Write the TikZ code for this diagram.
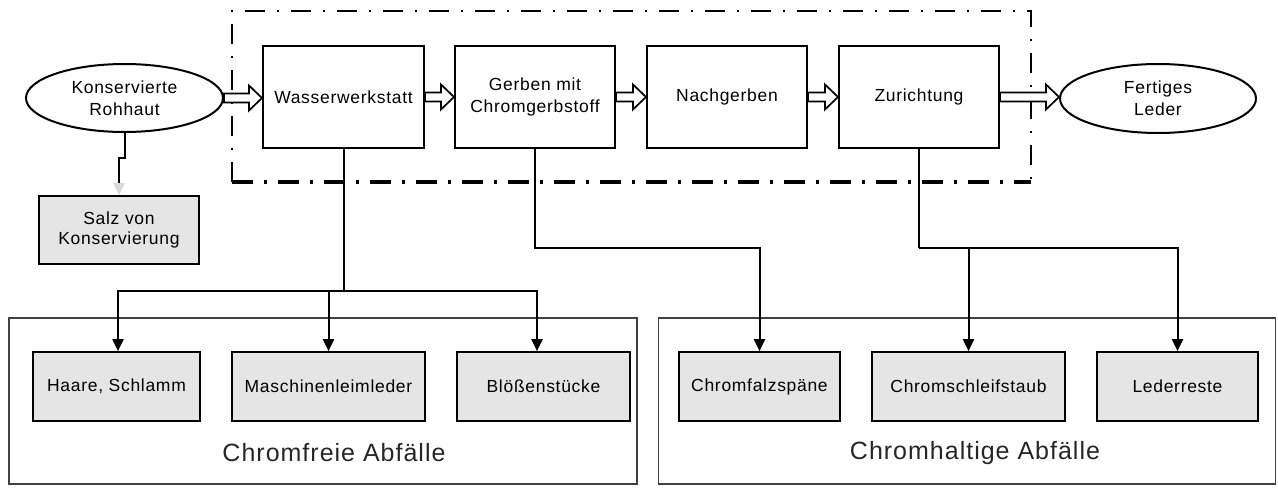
\documentclass[tikz,border=0pt]{standalone}
\usepackage{fontspec}
\setmainfont{Liberation Sans}[LetterSpace=4]
\usetikzlibrary{arrows.meta,calc,shapes.geometric}

\tikzset{
  txt/.style={font=\fontsize{17.5}{22}\selectfont, align=center, inner sep=0pt},
  process/.style={txt, draw, line width=2pt, minimum width=160pt, minimum height=102pt},
  terminal/.style={txt, draw, ellipse, line width=2pt, minimum width=197pt, minimum height=68pt},
  waste/.style={txt, draw, fill=black!10, line width=1.7pt, minimum height=69pt},
  group/.style={draw=black!75, line width=1.5pt},
  grouplabel/.style={font=\fontsize{25}{28}\selectfont, inner sep=0pt, text=black!85},
  link/.style={line width=2pt},
  wastearrow/.style={link, -{Triangle[length=12pt,width=11pt]}},
  grayarrow/.style={link, -{Triangle[length=12pt,width=11pt,color=black!15]}},
  flow/.style={draw, line width=1.7pt, fill=white},
  frameside/.style={line width=1.6pt, dash pattern=on 20pt off 12pt on 2pt off 12pt},
  framebase/.style={line width=3.8pt, dash pattern=on 21pt off 11pt on 3pt off 11pt}
}

% open block arrow from the east side of #1 to the west side of #2
\newcommand\blockarrow[2]{%
  \draw[flow] let \p1=(#1.east), \p2=(#2.west) in
    (\x1,\y1+4.5pt) -- (\x2-13pt,\y1+4.5pt) -- (\x2-13pt,\y1+12.5pt) -- (\x2,\y1)
    -- (\x2-13pt,\y1-12.5pt) -- (\x2-13pt,\y1-4.5pt) -- (\x1,\y1-4.5pt) -- cycle;}

\begin{document}
\begin{tikzpicture}[x=1pt,y=-1pt]
\useasboundingbox (0,0) rectangle (1278,488);

% process frame
\coordinate (fNW) at (232,11);
\coordinate (fSE) at (1031,182);
\draw[frameside] (fNW |- fSE) -- (fNW) -- (fSE |- fNW) -- (fSE);
\draw[framebase] (fNW |- fSE) -- (fSE);

% waste groups
\node[group, minimum width=628pt, minimum height=166pt, inner sep=0pt] (gfree) at (323,401) {};
\node[group, minimum width=617pt, minimum height=166pt, inner sep=0pt] (gcr) at (967,401) {};
\node[grouplabel] (lfree) at (334,453) {Chromfreie Abfälle};
\node[grouplabel] (lcr) at (975,453) {Chromhaltige Abfälle};

% process chain
\node[terminal] (rohhaut) at (124.5,98) {Konservierte\\Rohhaut};
\node[process, minimum width=161pt] (wass) at (343.5,97) {Wasserwerkstatt};
\node[process] (gerben) at (535,97) {Gerben mit\\Chromgerbstoff};
\node[process] (nach) at (727,97) {Nachgerben};
\node[process] (zur) at (919,97) {Zurichtung};
\node[terminal, minimum width=196pt, minimum height=69pt] (leder) at (1158,98.5) {Fertiges\\Leder};

\blockarrow{rohhaut}{wass}
\blockarrow{wass}{gerben}
\blockarrow{gerben}{nach}
\blockarrow{nach}{zur}
\blockarrow{zur}{leder}

% salt from preservation
\node[waste, minimum width=160pt, minimum height=68pt, font=\fontsize{17.5}{20}\selectfont] (salz) at (119,230) {Salz von\\Konservierung};
\draw[grayarrow] (rohhaut.south) -- (rohhaut.south |- 0,158) -| (salz.north);

% waste boxes
\node[waste, minimum width=167pt] (haare) at (116.5,386.5) {Haare, Schlamm};
\node[waste, minimum width=193pt] (masch) at (328.5,386.5) {Maschinenleimleder};
\node[waste, minimum width=173pt] (bloes) at (543.5,386.5) {Blößenstücke};
\node[waste, minimum width=161pt] (falz) at (759.5,386.5) {Chromfalzspäne};
\node[waste, minimum width=193pt] (schleif) at (968.5,386.5) {Chromschleifstaub};
\node[waste, minimum width=161pt] (reste) at (1177.5,386.5) {Lederreste};

% waste streams
\coordinate (jw) at (343.5,291);
\coordinate (jg) at (535,248);
\coordinate (jz) at (919,248);
\draw[link] (wass.south) -- (jw);
\draw[wastearrow] (jw) -| ([xshift=1.5pt]haare.north);
\draw[wastearrow] (jw) -| (masch.north);
\draw[wastearrow] (jw) -| ([xshift=-6.5pt]bloes.north);
\draw[wastearrow] (gerben.south) -- (jg) -| (falz.north);
\draw[link] (zur.south) -- (jz);
\draw[wastearrow] (jz) -| (schleif.north);
\draw[wastearrow] (jz) -| (reste.north);
\end{tikzpicture}
\end{document}
